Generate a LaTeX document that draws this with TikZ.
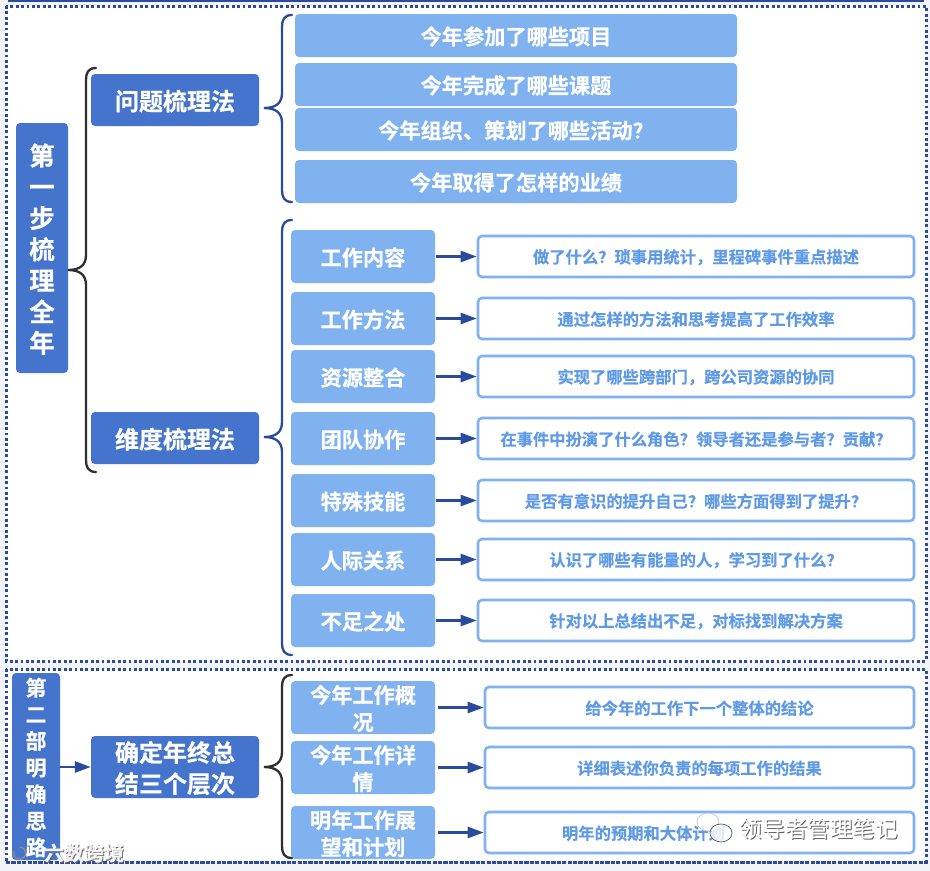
\documentclass[tikz,border=0pt]{standalone}
\usepackage{fontspec}
\setmainfont{Noto Sans CJK SC}[BoldFont={Noto Sans CJK SC Bold},BoldFeatures={FakeBold=0.5}]
\usetikzlibrary{arrows.meta,calc}
\definecolor{darkbox}{HTML}{4474CB}
\definecolor{lightbox}{HTML}{80B2F0}
\definecolor{navy}{HTML}{2A4A9C}
\definecolor{edgeink}{HTML}{2F2F2F}
\definecolor{pagebg}{HTML}{F3F4F7}
\definecolor{answer}{HTML}{5F9AE6}
\tikzset{
  x=1pt,y=-1pt,
  cell/.style={rectangle,rounded corners=4pt,inner sep=0pt,align=center,font=\bfseries},
  mainbox/.style={cell,fill=darkbox,text=white,font=\bfseries\fontsize{25.5}{31.2}\selectfont},
  groupbox/.style={cell,fill=darkbox,text=white,font=\bfseries\fontsize{24}{31}\selectfont},
  question/.style={cell,fill=lightbox,text=white,font=\bfseries\fontsize{21.2}{27}\selectfont},
  item/.style={cell,fill=lightbox,text=white,font=\bfseries\fontsize{21.2}{27}\selectfont},
  answerbox/.style={cell,fill=white,draw=lightbox,line width=2.6pt,text=answer,font=\bfseries\fontsize{16.3}{20}\selectfont},
  flow/.style={draw=navy,line width=2.6pt,-{Triangle[length=16pt,width=11pt]}},
  frame/.style={draw=navy,line width=3pt,dash pattern=on 2.8pt off 2.6pt},
  curly/.style={line width=2.3pt,line cap=round}
}
% box by pixel corners: name, style, x0, y0, x1, y1, text
\newcommand{\pxbox}[7]{\node[#2,minimum width=#5pt-#3pt,minimum height=#6pt-#4pt] (#1) at ({(#3+#5)/2},{(#4+#6)/2}) {\rule{0pt}{.95em}#7};}
% brace: style, stem x, top, mid, bottom, name
\newcommand{\curlybrace}[6]{%
  \coordinate (#6) at (#2-18,#4);
  \draw[curly,#1] (#2+10,#3) .. controls (#2+2,#3) and (#2,#3+5) .. (#2,#3+12)
    -- (#2,#4-15) .. controls (#2,#4-5) and (#2-6,#4) .. (#6)
    .. controls (#2-6,#4) and (#2,#4+5) .. (#2,#4+15)
    -- (#2,#5-12) .. controls (#2,#5-5) and (#2+2,#5) .. (#2+10,#5);}
\begin{document}
\begin{tikzpicture}
\useasboundingbox (0,0) rectangle (930,871);
\fill[pagebg] (0,0) rectangle (930,871);
\fill[white] (6,6) rectangle (926,662);
\fill[white] (6,669) rectangle (926,862);
\draw[frame] (6,6) rectangle (926,661);
\draw[frame] (6,669) rectangle (926,862);
\draw[navy,line width=1.6pt] (8,1) -- (924,1);

\pxbox{s1}{mainbox}{16}{123}{68}{373}{第\\一\\步\\梳\\理\\全\\年}
\pxbox{m1}{groupbox}{91}{74}{259}{126}{问题梳理法}
\pxbox{m2}{groupbox}{91}{412}{259}{464}{维度梳理法}

\pxbox{q1}{question}{295}{14}{737}{57}{今年参加了哪些项目}
\pxbox{q2}{question}{295}{63}{737}{106}{今年完成了哪些课题}
\pxbox{q3}{question}{295}{108}{737}{151}{今年组织、策划了哪些活动？}
\pxbox{q4}{question}{295}{160}{737}{203}{今年取得了怎样的业绩}

\pxbox{a1}{item}{291}{230}{435}{283}{工作内容}
\pxbox{a2}{item}{291}{292}{435}{345}{工作方法}
\pxbox{a3}{item}{291}{350}{435}{403}{资源整合}
\pxbox{a4}{item}{291}{412}{435}{465}{团队协作}
\pxbox{a5}{item}{291}{474}{435}{527}{特殊技能}
\pxbox{a6}{item}{291}{533}{435}{586}{人际关系}
\pxbox{a7}{item}{291}{594}{435}{647}{不足之处}

\pxbox{b1}{answerbox}{478}{236}{914}{277}{做了什么？琐事用统计，里程碑事件重点描述}
\pxbox{b2}{answerbox}{478}{298}{914}{339}{通过怎样的方法和思考提高了工作效率}
\pxbox{b3}{answerbox}{478}{356}{914}{397}{实现了哪些跨部门，跨公司资源的协同}
\pxbox{b4}{answerbox}{478}{418}{914}{459}{在事件中扮演了什么角色？领导者还是参与者？贡献？}
\pxbox{b5}{answerbox}{478}{480}{914}{521}{是否有意识的提升自己？哪些方面得到了提升？}
\pxbox{b6}{answerbox}{478}{539}{914}{580}{认识了哪些有能量的人，学习到了什么？}
\pxbox{b7}{answerbox}{478}{600}{914}{641}{针对以上总结出不足，对标找到解决方案}

\foreach \i in {1,...,7}{\draw[flow] ($(a\i.east)+(1,0)$) -- (b\i.west);}

\curlybrace{edgeink}{86}{68}{270}{472}{t1}
\curlybrace{navy}{282}{15}{108}{202}{t2}
\curlybrace{navy}{282}{220}{437}{655}{t3}

\pxbox{s2}{cell,fill=darkbox,text=white,font=\bfseries\fontsize{21}{26.6}\selectfont}{12}{673}{60}{860}{第\\二\\部\\明\\确\\思\\路}
\pxbox{m3}{groupbox}{91}{736}{259}{798}{确定年终总\\结三个层次}
\pxbox{c1}{item}{291}{681}{435}{734}{今年工作概\\况}
\pxbox{c2}{item}{291}{741}{435}{794}{今年工作详\\情}
\pxbox{c3}{item}{291}{806}{435}{859}{明年工作展\\望和计划}
\pxbox{d1}{answerbox}{485}{687}{914}{728}{给今年的工作下一个整体的结论}
\pxbox{d2}{answerbox}{485}{747}{914}{788}{详细表述你负责的每项工作的结果}
\pxbox{d3}{answerbox}{485}{812}{914}{853}{\makebox[275pt][l]{明年的预期和大体计划}}
\draw[frame] (6,862) -- (926,862);

\draw[flow] (s2.east |- m3.west) -- (m3.west);
\foreach \i in {1,2,3}{\draw[flow] ($(c\i.east)+(3,0)$) -- (d\i.west);}
\curlybrace{edgeink}{282}{675}{767}{858}{t4}

% watermarks
\draw[gray!40,fill=white,fill opacity=.8,line width=.8pt] (708,822) ellipse (11 and 9);
\draw[gray!70!black,fill=white,fill opacity=.8,line width=.7pt] (721,833) ellipse (11 and 9);
\foreach \dx/\dy/\c in {1/1/gray!75!black,0/0/white}{
  \node[font=\bfseries\fontsize{20}{20}\selectfont,text=\c,inner sep=0pt,opacity=.9] (wm\dx) at (84+\dx,853+\dy) {六数跨境};
  \node[font=\fontsize{22.6}{25}\selectfont,text=\c,inner sep=0pt] (wn\dx) at (819+\dx,829+\dy) {领导者管理笔记};
}
\draw[gray!90,line width=1.4pt] (14,851) arc[start angle=200,end angle=-90,radius=6];
\end{tikzpicture}
\end{document}
